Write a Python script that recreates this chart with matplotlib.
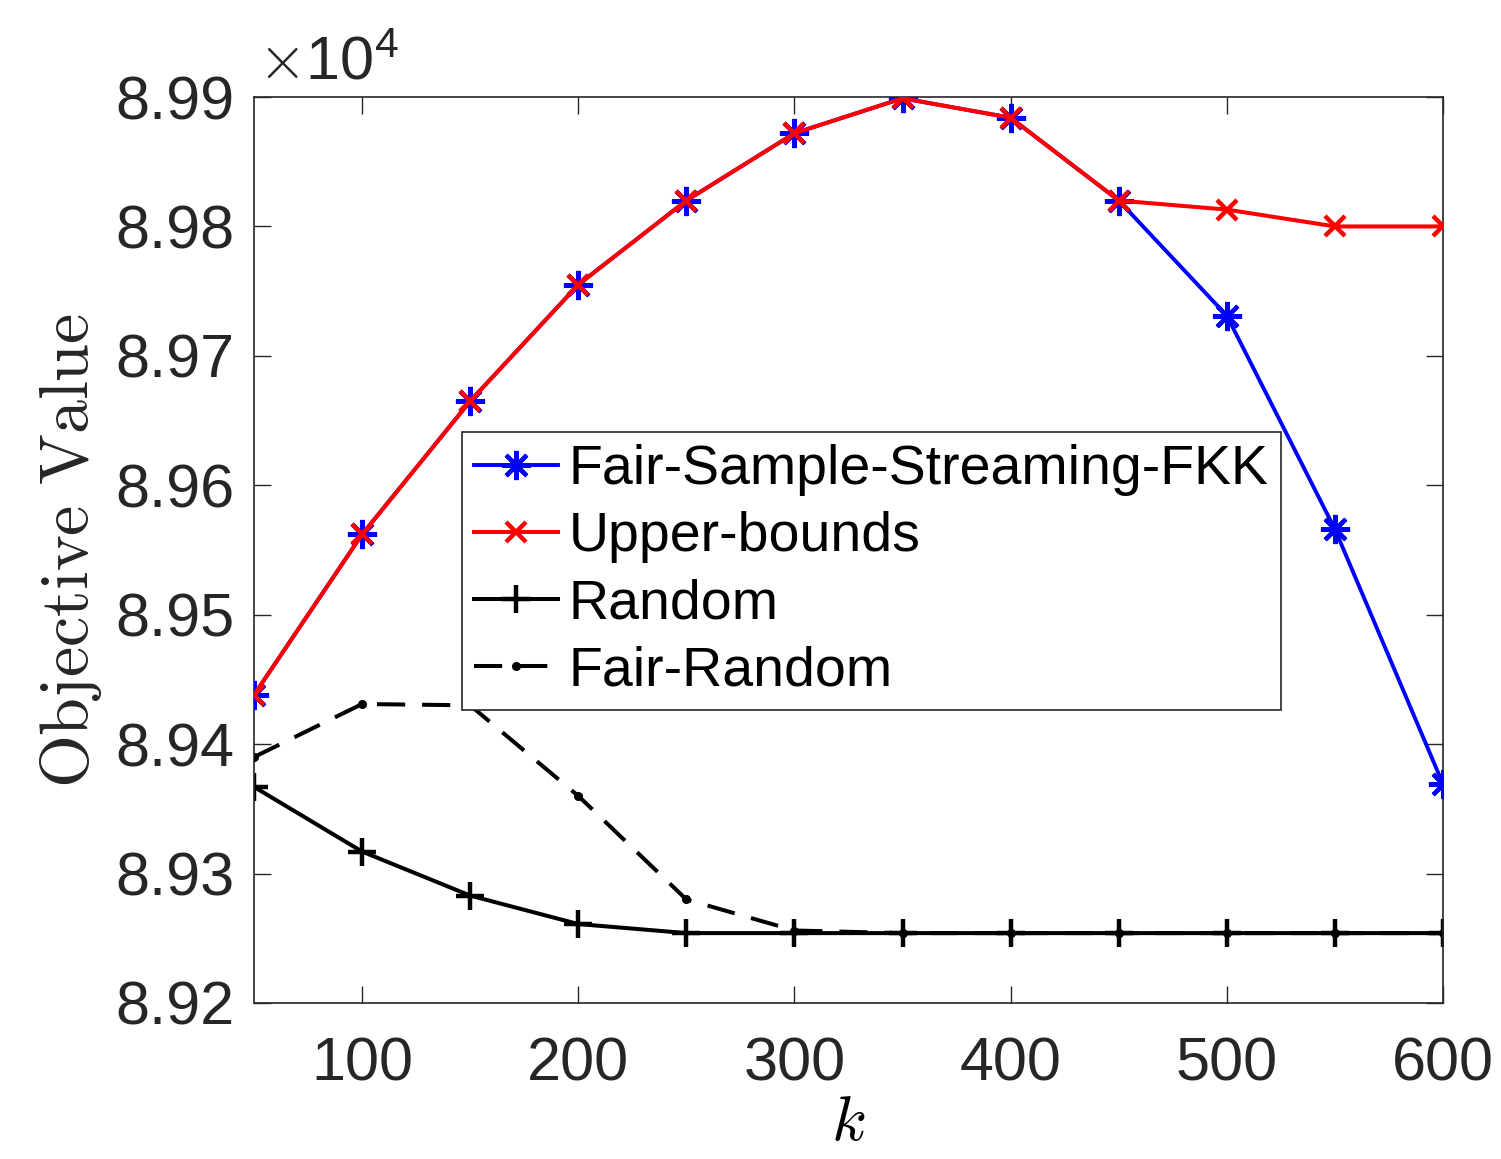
import matplotlib
matplotlib.use('Agg')
import matplotlib.pyplot as plt
from matplotlib.ticker import FuncFormatter

plt.rcParams['font.family'] = ['Liberation Sans', 'DejaVu Sans']
plt.rcParams['mathtext.fontset'] = 'cm'

# data
k = [50, 100, 150, 200, 250, 300, 350, 400, 450, 500, 550, 600]
fair_stream = [89438, 89562, 89665, 89755, 89820, 89872, 89899, 89884, 89820, 89731, 89566, 89369]
upper = [89438, 89562, 89665, 89755, 89820, 89872, 89899, 89884, 89820, 89813, 89800, 89800]
rand = [89367, 89317, 89283, 89261, 89254, 89254, 89254, 89254, 89254, 89254, 89254, 89254]
fair_rand = [89390, 89431, 89430, 89360, 89280, 89256, 89254, 89254, 89254, 89254, 89254, 89254]

xticks = [100, 200, 300, 400, 500, 600]
yticks = [89200, 89300, 89400, 89500, 89600, 89700, 89800, 89900]

fig = plt.figure(figsize=(15.01, 11.59), dpi=100)
ax = fig.add_axes([0.1692, 0.1346, 0.7922, 0.7817])

ax.plot(k, fair_stream, color='blue', lw=2.8, marker=(8, 2, 0), ms=21, mew=3,
        label='Fair-Sample-Streaming-FKK', zorder=3)
ax.plot(k, upper, color='red', lw=2.9, marker='x', ms=15, mew=3.2,
        label='Upper-bounds', zorder=4)
ax.plot(k, rand, color='black', lw=2.9, marker='+', ms=20, mew=3.2,
        label='Random', zorder=2)
ax.plot(k, fair_rand, color='black', lw=2.9, ls=(0, (7, 4.2)), marker='o', ms=5.5,
        label='Fair-Random', zorder=2)

ax.set_xlim(50, 600)
ax.set_ylim(89200, 89900)
ax.set_xticks(xticks)
ax.set_yticks(yticks)
ax.yaxis.set_major_formatter(FuncFormatter(lambda v, p: f'{v/1e4:.2f}'))
ax.tick_params(direction='in', length=12, width=1, top=True, right=True,
               labelsize=44, colors='#262626')
ax.tick_params(axis='x', pad=24)
ax.tick_params(axis='y', pad=14)
for s in ax.spines.values():
    s.set_color('#262626')
    s.set_linewidth(1.2)

ax.text(0.003, 1.005, r'$\times\mathregular{10^4}$', transform=ax.transAxes, fontsize=44,
        color='#262626', ha='left', va='bottom')

ax.set_xlabel(r'$k$', fontsize=46, labelpad=0)
ax.set_ylabel(r'$\mathrm{Objective\ Value}$', fontsize=49, color='#262626', labelpad=8)

leg = ax.legend(loc='upper left', bbox_to_anchor=(0.175, 0.630), fontsize=40,
                numpoints=1, handlelength=1.5, handletextpad=0.2,
                borderpad=0.22, labelspacing=0.27, fancybox=False,
                borderaxespad=0, framealpha=1)
leg.get_frame().set_edgecolor('#262626')
leg.get_frame().set_linewidth(1.2)

fig.savefig('out.png', dpi=100)
